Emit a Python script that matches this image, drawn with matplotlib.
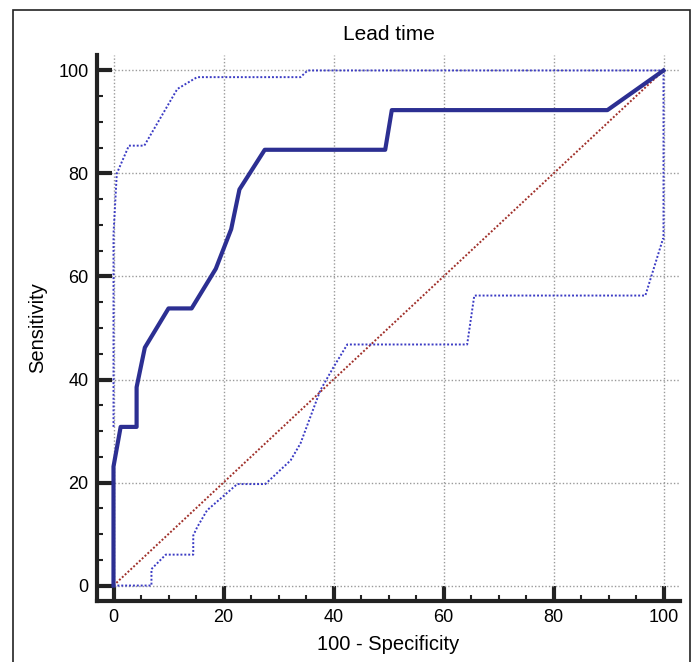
import numpy as np
import matplotlib
matplotlib.use("Agg")
import matplotlib.pyplot as plt
from matplotlib.patches import Rectangle
from matplotlib.ticker import MultipleLocator

plt.rcParams['font.family'] = ['Liberation Sans', 'DejaVu Sans']

# ROC curve (100 - specificity, sensitivity)
roc_x = [0, 0, 1.3, 4.2, 4.2, 5.7, 10.0, 14.2, 18.6, 21.4, 22.9, 27.5, 49.4, 50.6, 89.8, 100]
roc_y = [0, 23.1, 30.8, 30.8, 38.5, 46.2, 53.8, 53.8, 61.5, 69.2, 76.9, 84.6, 84.6, 92.3, 92.3, 100]

# upper confidence bound
upper_x = [0, 0, 0.6, 2.8, 5.6, 11.6, 15.2, 34.0, 35.3, 100]
upper_y = [30.8, 68.2, 80.0, 85.4, 85.4, 96.4, 98.7, 98.7, 100, 100]

# lower confidence bound
lower_x = [0, 6.9, 6.9, 9.5, 14.5, 14.5, 15.2, 17.0, 22.5, 27.6, 32.2, 34.0, 37.6, 40.0, 42.5, 64.3, 65.6, 96.7, 99.9, 100, 100]
lower_y = [0, 0, 3.2, 6.0, 6.0, 9.7, 11.3, 14.6, 19.7, 19.7, 24.3, 27.6, 37.9, 42.4, 46.8, 46.8, 56.3, 56.3, 67.3, 67.3, 100]

ticks = [0, 20, 40, 60, 80, 100]

fig = plt.figure(figsize=(6.96, 6.62), dpi=100)
ax = fig.add_axes([97 / 696, 1 - 601 / 662, 583 / 696, 546 / 662])

#Chart frame around everything
fig.patches.append(Rectangle((13 / 696, -0.05), 677 / 696, 1.05 - 10 / 662,
                             transform=fig.transFigure, fill=False,
                             edgecolor='#222222', linewidth=1.2, clip_on=False))

ax.plot([0, 100], [0, 100], color='#a0302a', linestyle=(0, (1, 1)), linewidth=1.4, zorder=2)
ax.plot(upper_x, upper_y, color='#3b3bc4', linestyle=(0, (1, 1)), linewidth=1.4, zorder=3)
ax.plot(lower_x, lower_y, color='#3b3bc4', linestyle=(0, (1, 1)), linewidth=1.4, zorder=3)
ax.plot(roc_x, roc_y, color='#2c2f92', linewidth=3, zorder=4)

ax.set_xlim(-3, 103)
ax.set_ylim(-3, 103)
ax.set_xticks(ticks)
ax.set_yticks(ticks)
ax.xaxis.set_minor_locator(MultipleLocator(5))
ax.yaxis.set_minor_locator(MultipleLocator(5))

ax.grid(True, which='major', color='#9a9a9a', linestyle=(0, (1, 1.5)), linewidth=1)
ax.set_axisbelow(True)

for side in ['top', 'right']:
    ax.spines[side].set_visible(False)
for side in ['left', 'bottom']:
    ax.spines[side].set_linewidth(3)
    ax.spines[side].set_color('#222222')

ax.tick_params(which='major', direction='in', length=11, width=3, color='#222222',
               labelsize=13, pad=6)
ax.tick_params(which='minor', direction='in', length=4.5, width=1.5, color='#222222')

ax.set_title("Lead time", fontsize=15, pad=11)
ax.set_xlabel("100 - Specificity", fontsize=14.5, labelpad=6)
ax.set_ylabel("Sensitivity", fontsize=14.5, labelpad=8)

fig.savefig("out.png", dpi=100)
